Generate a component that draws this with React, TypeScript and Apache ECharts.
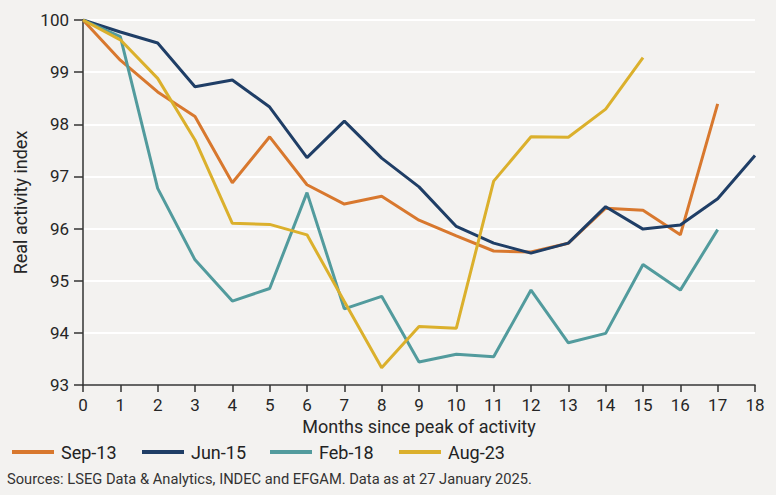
import React, { useEffect, useRef } from "react";
import * as echarts from "echarts";

const months = ["0", "1", "2", "3", "4", "5", "6", "7", "8", "9", "10", "11", "12", "13", "14", "15", "16", "17", "18"];

const sep13 = [100, 99.23, 98.62, 98.15, 96.88, 97.76, 96.84, 96.47, 96.62, 96.16, 95.86, 95.57, 95.55, 95.72, 96.39, 96.35, 95.88, 98.39];
const jun15 = [100, 99.77, 99.56, 98.72, 98.85, 98.33, 97.36, 98.06, 97.35, 96.8, 96.04, 95.72, 95.53, 95.72, 96.42, 95.99, 96.07, 96.57, 97.4];
const feb18 = [100, 99.68, 96.77, 95.4, 94.61, 94.85, 96.69, 94.46, 94.7, 93.44, 93.59, 93.54, 94.82, 93.81, 93.99, 95.31, 94.82, 95.98];
const aug23 = [100, 99.62, 98.88, 97.7, 96.1, 96.08, 95.88, 94.6, 93.33, 94.12, 94.09, 96.91, 97.76, 97.75, 98.29, 99.28];

const seriesNames = ["Sep-13", "Jun-15", "Feb-18", "Aug-23"];
const seriesColors = ["#d8782e", "#1f3e66", "#529b9d", "#dbb02c"];
const legendLefts = [12, 142, 270, 399];

const FONT = "Roboto";
const BG = "#f3f2f0";

export default function App() {
  const ref = useRef<HTMLDivElement>(null);

  useEffect(() => {
    if (!ref.current) return;
    const chart = echarts.init(ref.current, null, { renderer: "svg" });
    const values = [sep13, jun15, feb18, aug23];

    chart.setOption({
      animation: false,
      backgroundColor: BG,
      textStyle: { fontFamily: FONT },
      grid: { left: 83, right: 21, top: 20, bottom: 110 },
      xAxis: {
        type: "category",
        data: months,
        boundaryGap: false,
        name: "Months since peak of activity",
        nameLocation: "middle",
        nameGap: 29,
        nameTextStyle: { fontSize: 18, color: "#262626", fontFamily: FONT },
        axisLine: { lineStyle: { color: "#333", width: 1.5 } },
        axisTick: { show: true, length: 7, lineStyle: { color: "#333", width: 1.5 } },
        axisLabel: { fontSize: 17, color: "#262626", margin: 11, fontFamily: FONT },
        splitLine: { show: false },
      },
      yAxis: {
        type: "value",
        min: 93,
        max: 100,
        interval: 1,
        name: "Real activity index",
        nameLocation: "middle",
        nameGap: 50,
        nameTextStyle: { fontSize: 18, color: "#262626", fontFamily: FONT },
        axisLine: { show: true, lineStyle: { color: "#333", width: 1.5 } },
        axisTick: { show: true, length: 9, lineStyle: { color: "#333", width: 1.5 } },
        axisLabel: { fontSize: 17, color: "#262626", margin: 14, fontFamily: FONT },
        splitLine: { show: true, lineStyle: { color: "#ffffff", width: 2 } },
      },
      legend: seriesNames.map((name, i) => ({
        data: [name],
        left: legendLefts[i],
        top: 443,
        icon: "rect",
        itemWidth: 42,
        itemHeight: 4,
        itemGap: 0,
        padding: 0,
        textStyle: { fontSize: 18, color: "#222", fontFamily: FONT, padding: [0, 0, 0, 2] },
      })),
      graphic: [
        {
          type: "text",
          left: 7,
          top: 471,
          style: {
            text: "Sources: LSEG Data & Analytics, INDEC and EFGAM. Data as at 27 January 2025.",
            fontSize: 14.7,
            fontFamily: FONT,
            fill: "#333",
          },
        },
      ],
      series: seriesNames.map((name, i) => ({
        name,
        type: "line",
        data: values[i],
        symbol: "none",
        lineStyle: { width: 3, color: seriesColors[i] },
        itemStyle: { color: seriesColors[i] },
      })),
    });

    return () => chart.dispose();
  }, []);

  return (
    <div
      ref={ref}
      style={{ position: "absolute", left: 0, top: 0, width: 776, height: 495, background: BG }}
    />
  );
}
